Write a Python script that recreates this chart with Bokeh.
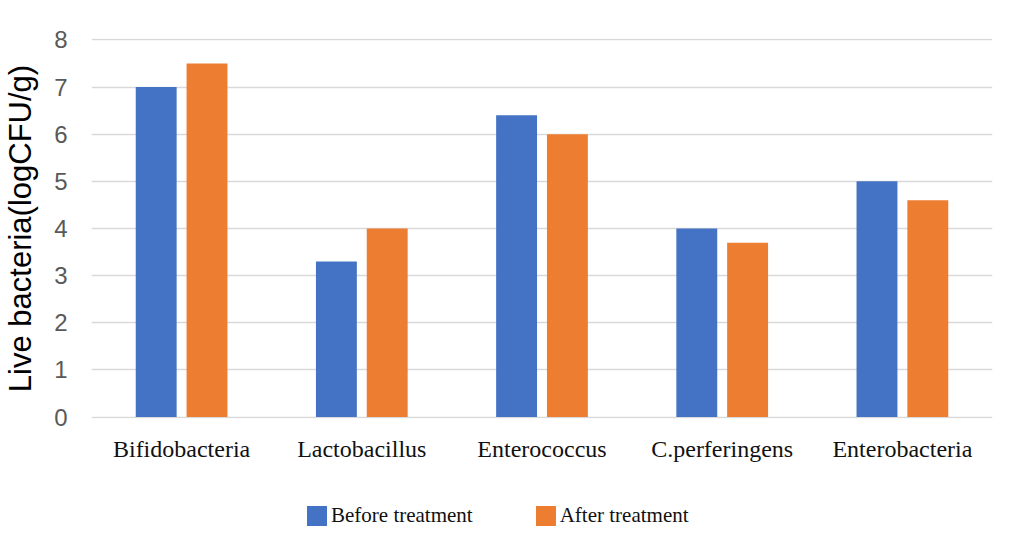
from bokeh.plotting import figure
from bokeh.models import ColumnDataSource, FactorRange, Range1d, Legend, LegendItem
from bokeh.layouts import column
from bokeh.transform import dodge
from bokeh.embed import file_html
from bokeh.resources import INLINE

categories = ["Bifidobacteria", "Lactobacillus", "Enterococcus", "C.perferingens", "Enterobacteria"]
before = [7.0, 3.3, 6.4, 4.0, 5.0]
after = [7.5, 4.0, 6.0, 3.7, 4.6]
series_names = ["Before treatment", "After treatment"]
series_colors = ["#4472C4", "#ED7D31"]
y_ticks = [0, 1, 2, 3, 4, 5, 6, 7, 8]

src = ColumnDataSource(dict(cat=categories, before=before, after=after))

p = figure(width=1013, height=490, output_backend="svg", toolbar_location=None,
           x_range=FactorRange(*categories, range_padding=0), y_range=Range1d(-0.03, 8.03),
           min_border_left=90, min_border_right=21, min_border_top=38, min_border_bottom=72)

p.vbar(x=dodge("cat", -0.141, range=p.x_range), top="before", width=0.227,
       source=src, color=series_colors[0], line_color=None)
p.vbar(x=dodge("cat", 0.141, range=p.x_range), top="after", width=0.227,
       source=src, color=series_colors[1], line_color=None)

p.outline_line_color = None
p.xgrid.grid_line_color = None
p.ygrid.grid_line_color = "#d9d9d9"
p.ygrid.grid_line_width = 1.5
p.yaxis.ticker = y_ticks

for ax in (p.xaxis[0], p.yaxis[0]):
    ax.axis_line_color = None
    ax.major_tick_line_color = None
    ax.minor_tick_line_color = None

p.yaxis.major_label_text_font = "Liberation Sans"
p.yaxis.major_label_text_font_size = "24px"
p.yaxis.major_label_text_color = "#595959"
p.yaxis.major_label_standoff = 18
p.yaxis.axis_label = "Live bacteria(logCFU/g)"
p.yaxis.axis_label_text_font = "Liberation Sans"
p.yaxis.axis_label_text_font_size = "31px"
p.yaxis.axis_label_text_font_style = "normal"
p.yaxis.axis_label_text_color = "#000000"
p.yaxis.axis_label_standoff = 13

p.xaxis.major_label_text_font = "Liberation Serif"
p.xaxis.major_label_text_font_size = "24px"
p.xaxis.major_label_text_color = "#111111"
p.xaxis.major_label_standoff = 11

# strip for the legend below the chart (its bars sit outside its visible y range)
lg = figure(width=1013, height=40, output_backend="svg", toolbar_location=None,
            x_range=p.x_range, y_range=Range1d(100, 101),
            x_axis_location=None, y_axis_location=None,
            min_border_left=0, min_border_right=0, min_border_top=0, min_border_bottom=0)
lg.grid.visible = False
lg.outline_line_color = None
g1 = lg.vbar(x=dodge("cat", -0.141, range=lg.x_range), top="before", width=0.227,
             source=src, color=series_colors[0], line_color=None)
g2 = lg.vbar(x=dodge("cat", 0.141, range=lg.x_range), top="after", width=0.227,
             source=src, color=series_colors[1], line_color=None)

legend = Legend(items=[LegendItem(label=series_names[0], renderers=[g1]),
                       LegendItem(label=series_names[1], renderers=[g2])],
                location=(213, 2), orientation="horizontal",
                glyph_width=25, glyph_height=25, label_standoff=2, spacing=60,
                padding=0, margin=0, border_line_color=None, background_fill_alpha=0,
                label_text_font="Liberation Serif", label_text_font_size="21px",
                label_text_color="#111111")
lg.add_layout(legend, "center")

layout = column(p, lg, spacing=0)
open("out.html", "w").write(file_html(layout, INLINE))
